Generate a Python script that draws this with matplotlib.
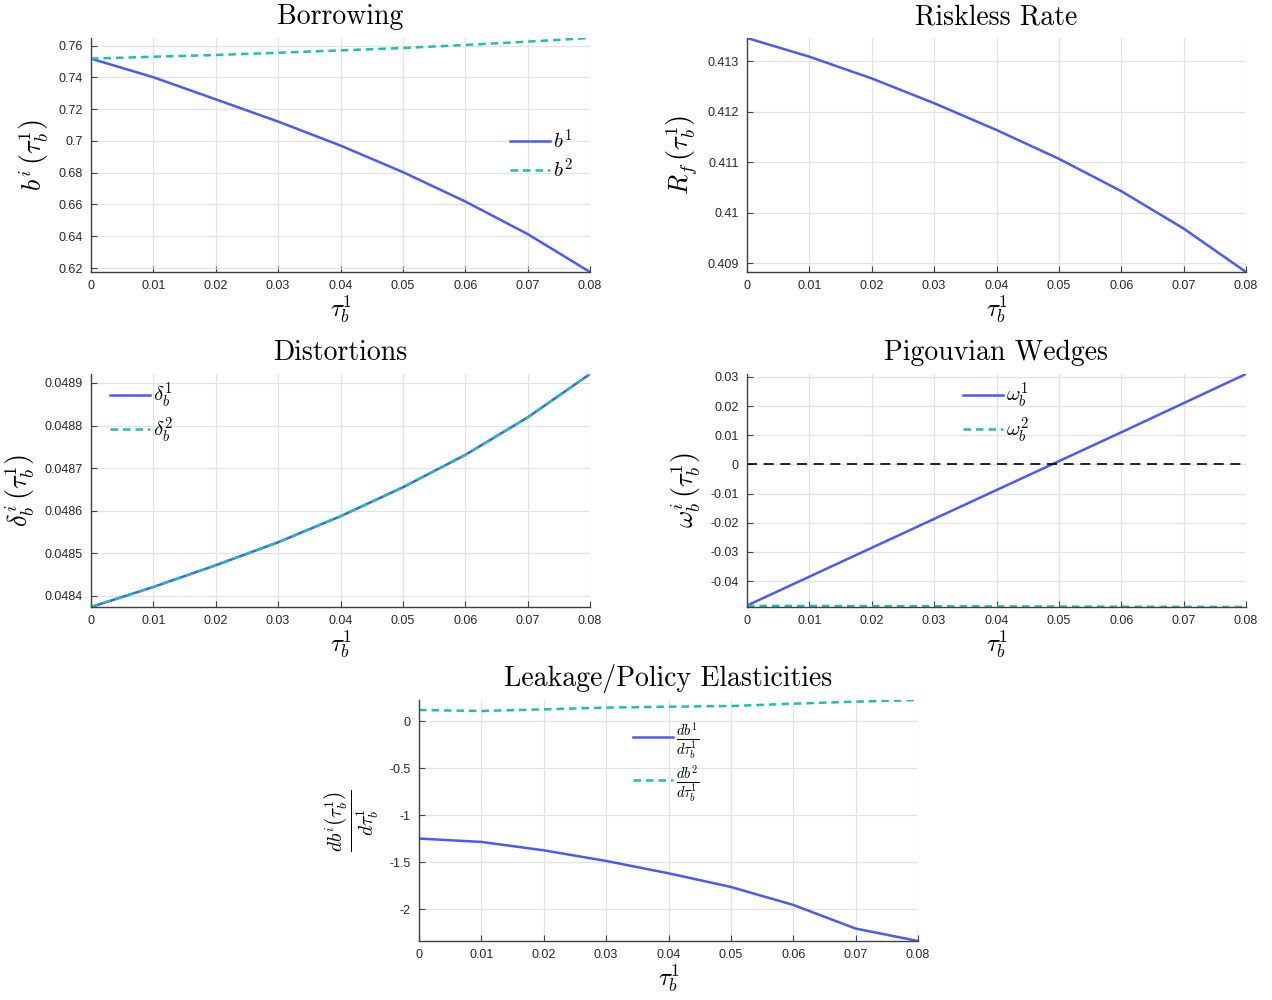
import matplotlib
matplotlib.use('Agg')
import matplotlib.pyplot as plt
from matplotlib.ticker import FuncFormatter

plt.rcParams['font.family'] = ['Liberation Sans', 'DejaVu Sans']
plt.rcParams['mathtext.fontset'] = 'cm'

# tax on type-1 borrowing
tau = [0, 0.01, 0.02, 0.03, 0.04, 0.05, 0.06, 0.07, 0.08]

# borrowing
b1 = [0.7518, 0.7401, 0.7262, 0.7122, 0.6971, 0.6804, 0.6619, 0.6414, 0.6175]
b2 = [0.7518, 0.7530, 0.7541, 0.7555, 0.7570, 0.7585, 0.7604, 0.7625, 0.7648]

# riskless rate
rf = [0.41346, 0.41309, 0.41266, 0.41217, 0.41164, 0.41107, 0.41043, 0.40969, 0.40883]

# distortions
delta1 = [0.048374, 0.048421, 0.048472, 0.048526, 0.048587, 0.048655, 0.048731, 0.048819, 0.048921]
delta2 = [0.048374, 0.048421, 0.048472, 0.048526, 0.048587, 0.048655, 0.048731, 0.048819, 0.048921]

# pigouvian wedges
omega1 = [-0.0484, -0.0385, -0.0286, -0.0187, -0.0088, 0.0011, 0.0110, 0.0210, 0.0310]
omega2 = [-0.0485, -0.04855, -0.0486, -0.04865, -0.0487, -0.04875, -0.0488, -0.04885, -0.0489]

# leakage / policy elasticities
db1 = [-1.248, -1.284, -1.373, -1.486, -1.617, -1.762, -1.953, -2.204, -2.336]
db2 = [0.117, 0.106, 0.124, 0.142, 0.152, 0.159, 0.184, 0.205, 0.223]

xticks = [0, 0.01, 0.02, 0.03, 0.04, 0.05, 0.06, 0.07, 0.08]

blue = '#4a5af5'
teal = '#1dbfb2'
axcol = '#404040'

fig = plt.figure(figsize=(12.72, 10), dpi=100)

W, H = 499 / 1272, 0.234
ax_b = fig.add_axes([91 / 1272, 0.728, W, H])
ax_r = fig.add_axes([747 / 1272, 0.728, W, H])
ax_d = fig.add_axes([91 / 1272, 0.393, W, 0.233])
ax_w = fig.add_axes([747 / 1272, 0.393, W, 0.233])
ax_l = fig.add_axes([419 / 1272, 0.059, W, 0.241])

gfmt = FuncFormatter(lambda v, p: '%g' % round(v, 6))


def style(ax, title, ylabel, yticks, ylsize=19):
    ax.set_xlim(0, 0.08)
    ax.set_xticks(xticks)
    ax.set_yticks(yticks)
    ax.xaxis.set_major_formatter(gfmt)
    ax.yaxis.set_major_formatter(gfmt)
    ax.grid(True, color='#e3e3e3', lw=0.9)
    ax.set_axisbelow(True)
    for s in ['top', 'right']:
        ax.spines[s].set_visible(False)
    for s in ['left', 'bottom']:
        ax.spines[s].set_color(axcol)
        ax.spines[s].set_linewidth(1.0)
    ax.tick_params(direction='in', length=4, width=0.8, color=axcol,
                   labelsize=9, labelcolor='#262626', pad=6)
    ax.set_title(title, fontfamily='cmr10', fontsize=20, pad=10)
    ax.set_xlabel(r'$\tau_b^1$', fontsize=18, labelpad=1)
    ax.set_ylabel(ylabel, fontsize=ylsize, labelpad=5)


def tight(ax, *series):
    lo = min(min(s) for s in series)
    hi = max(max(s) for s in series)
    ax.set_ylim(lo, hi)


def legend(ax, x, y, spacing=0.25):
    ax.legend(loc='center left', bbox_to_anchor=(x, y), frameon=False,
              fontsize=15, handlelength=1.9, handletextpad=0.15,
              borderpad=0, borderaxespad=0, labelspacing=spacing)


# Borrowing
ax_b.plot(tau, b1, color=blue, lw=1.8, label=r'$b^1$')
ax_b.plot(tau, b2, color=teal, lw=1.8, ls=(0, (3, 2)), label=r'$b^2$')
tight(ax_b, b1, b2)
style(ax_b, 'Borrowing', r'$b^i\,\left(\tau_b^1\right)$',
      [0.62, 0.64, 0.66, 0.68, 0.70, 0.72, 0.74, 0.76])
legend(ax_b, 0.84, 0.5)

# Riskless rate
ax_r.plot(tau, rf, color=blue, lw=1.8)
tight(ax_r, rf)
style(ax_r, 'Riskless Rate', r'$R_f\,\left(\tau_b^1\right)$',
      [0.409, 0.410, 0.411, 0.412, 0.413])

# Distortions
ax_d.plot(tau, delta1, color=blue, lw=1.8, label=r'$\delta_b^1$')
ax_d.plot(tau, delta2, color=teal, lw=1.8, ls=(0, (3, 2)), label=r'$\delta_b^2$')
tight(ax_d, delta1, delta2)
style(ax_d, 'Distortions', r'$\delta_b^i\,\left(\tau_b^1\right)$',
      [0.0484, 0.0485, 0.0486, 0.0487, 0.0488, 0.0489])
legend(ax_d, 0.038, 0.833)

# Pigouvian wedges
ax_w.plot(tau, omega1, color=blue, lw=1.8, label=r'$\omega_b^1$')
ax_w.plot(tau, omega2, color=teal, lw=1.8, ls=(0, (3, 2)), label=r'$\omega_b^2$')
ax_w.axhline(0, color='black', lw=1.2, ls=(0, (6, 4)))
tight(ax_w, omega1, omega2)
style(ax_w, 'Pigouvian Wedges', r'$\omega_b^i\,\left(\tau_b^1\right)$',
      [-0.04, -0.03, -0.02, -0.01, 0, 0.01, 0.02, 0.03])
legend(ax_w, 0.433, 0.833)

# Leakage / policy elasticities
ax_l.plot(tau, db1, color=blue, lw=1.8, label=r'$\frac{db^1}{d\tau_b^1}$')
ax_l.plot(tau, db2, color=teal, lw=1.8, ls=(0, (3, 2)), label=r'$\frac{db^2}{d\tau_b^1}$')
tight(ax_l, db1, db2)
style(ax_l, 'Leakage/Policy Elasticities',
      r'$\frac{db^i\left(\tau_b^1\right)}{d\tau_b^1}$',
      [-2, -1.5, -1, -0.5, 0], ylsize=20)
legend(ax_l, 0.429, 0.74, spacing=0.1)

fig.savefig('out.png', dpi=100)
